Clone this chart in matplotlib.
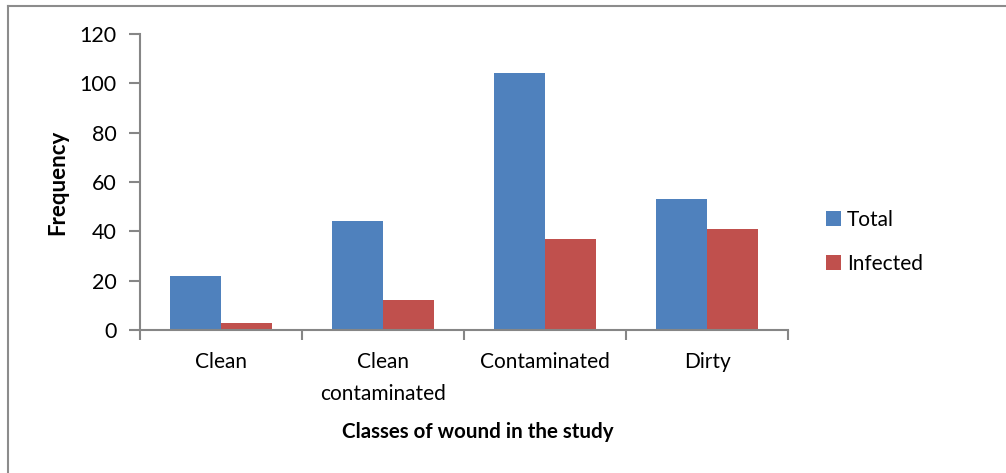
import numpy as np
import matplotlib.pyplot as plt
from matplotlib.lines import Line2D

categories = ['Clean', 'Clean\ncontaminated', 'Contaminated', 'Dirty']
total = [22, 44, 104, 53]
infected = [3, 12, 37, 41]
series_names = ['Total', 'Infected']
y_ticks = [0, 20, 40, 60, 80, 100, 120]

plt.rcParams['font.family'] = ['Lato', 'DejaVu Sans']

W, H = 1006, 473
fig = plt.figure(figsize=(W / 100, H / 100), dpi=100)
ax = fig.add_axes([140 / W, 1 - 330 / H, (788 - 140) / W, (330 - 34) / H])

x = np.arange(len(categories))
bw = 0.3125
axis_col = '#868686'
ax.bar(x - bw / 2, total, bw, color='#4F81BD', label=series_names[0])
ax.bar(x + bw / 2, infected, bw, color='#C0504D', label=series_names[1])

ax.set_xlim(-0.5, len(categories) - 0.5)
ax.set_ylim(0, 120)
ax.set_yticks(y_ticks)
ax.set_xticks(np.arange(len(categories) + 1) - 0.5)
ax.set_xticklabels([])
ax.set_xticks(x, minor=True)
ax.set_xticklabels(categories, minor=True, fontsize=15, linespacing=1.75)
ax.tick_params(axis='x', which='minor', length=0, pad=16)
ax.tick_params(axis='x', which='major', length=7, color=axis_col, width=1.5)
ax.tick_params(axis='y', length=8, color=axis_col, width=1.5, labelsize=15.5, pad=9)

for s in ['top', 'right']:
    ax.spines[s].set_visible(False)
for s in ['left', 'bottom']:
    ax.spines[s].set_color(axis_col)
    ax.spines[s].set_linewidth(1.5)

ax.set_ylabel('Frequency', fontsize=16, fontweight='bold', labelpad=8)
fig.text(478 / W, 1 - 432 / H, 'Classes of wound in the study',
         fontsize=14.8, fontweight='bold', ha='center', va='center')

ax.legend(loc='center left', bbox_to_anchor=(818 / W, 1 - 242 / H),
          bbox_transform=fig.transFigure, frameon=False, fontsize=15,
          handlelength=0.7, handleheight=0.7, handletextpad=0.3,
          labelspacing=1.15, borderaxespad=0)

# outer chart frame (only top and left edges are in the picture)
fig.add_artist(Line2D([8 / W, 1], [1 - 6 / H, 1 - 6 / H], color='#8c8c8c', lw=1.5,
                      transform=fig.transFigure))
fig.add_artist(Line2D([8 / W, 8 / W], [0, 1 - 6 / H], color='#8c8c8c', lw=1.5,
                      transform=fig.transFigure))

fig.savefig('out.png', dpi=100)
